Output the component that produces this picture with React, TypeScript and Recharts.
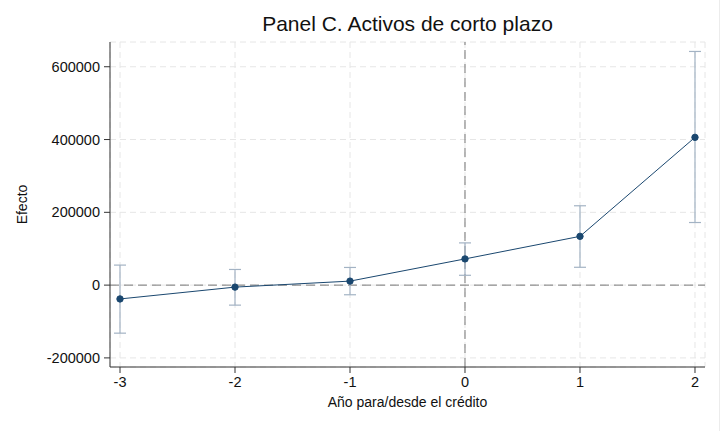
import {
  LineChart,
  Line,
  XAxis,
  YAxis,
  CartesianGrid,
  ReferenceLine,
  ErrorBar,
  Label,
} from 'recharts';

// event-study estimates
const years = [-3, -2, -1, 0, 1, 2];
const effect = [-38000, -5500, 11000, 72000, 134000, 406000];
const ciLow = [-132000, -55000, -26500, 27000, 49000, 172000];
const ciHigh = [55000, 43000, 48500, 116000, 218000, 642000];
const xTicks = [-3, -2, -1, 0, 1, 2];
const yTicks = [-200000, 0, 200000, 400000, 600000];

const data = years.map((year, i) => ({
  year,
  effect: effect[i],
  // ErrorBar wants distances below / above the point
  err: [effect[i] - ciLow[i], ciHigh[i] - effect[i]],
}));

const FONT = '"Liberation Sans", Arial, sans-serif';
const tickStyle = { fill: '#111', fontSize: 14.5, fontFamily: FONT };

const App = () => {
  return (
    <div style={{ position: 'absolute', left: 0, top: 0, width: 721, height: 431, background: '#fff' }}>
      {/* faint frame edge on the right like the original export */}
      <div style={{ position: 'absolute', left: 719, top: 0, width: 1, height: 431, background: '#ececec' }} />
      <div
        style={{
          position: 'absolute',
          left: 110,
          width: 595,
          top: 12,
          textAlign: 'center',
          fontFamily: FONT,
          fontSize: 21,
          color: '#111',
        }}
      >
        Panel C. Activos de corto plazo
      </div>
      <LineChart
        width={721}
        height={431}
        data={data}
        margin={{ top: 42, right: 16, bottom: 0, left: 0 }}
      >
        <CartesianGrid stroke="#e6e6e6" strokeDasharray="6 4" />
        <XAxis
          dataKey="year"
          type="number"
          domain={[-3.087, 2.087]}
          ticks={xTicks}
          height={64}
          tick={tickStyle}
          tickSize={6}
          tickMargin={4}
          axisLine={{ stroke: '#333' }}
          tickLine={{ stroke: '#333' }}
        >
          <Label
            value="Año para/desde el crédito"
            position="insideTop"
            offset={30}
            style={{ fill: '#111', fontSize: 14, fontFamily: FONT }}
          />
        </XAxis>
        <YAxis
          type="number"
          domain={[-225000, 668000]}
          ticks={yTicks}
          width={110}
          tick={tickStyle}
          tickSize={6}
          tickMargin={4}
          axisLine={{ stroke: '#333' }}
          tickLine={{ stroke: '#333' }}
          allowDataOverflow
        >
          <Label
            value="Efecto"
            angle={-90}
            position="insideLeft"
            offset={22}
            style={{ fill: '#111', fontSize: 14, fontFamily: FONT, textAnchor: 'middle' }}
          />
        </YAxis>
        <ReferenceLine y={0} stroke="#777" strokeDasharray="9 5" />
        <ReferenceLine x={0} stroke="#777" strokeDasharray="9 5" />
        <Line
          dataKey="effect"
          stroke="#1a476f"
          strokeWidth={1}
          dot={{ r: 3.2, fill: '#1a476f', stroke: '#1a476f', strokeWidth: 1 }}
          activeDot={false}
          isAnimationActive={false}
        >
          <ErrorBar dataKey="err" direction="y" width={6} stroke="#a3b3c4" strokeWidth={1.2} />
        </Line>
      </LineChart>
    </div>
  );
};

export default App;
